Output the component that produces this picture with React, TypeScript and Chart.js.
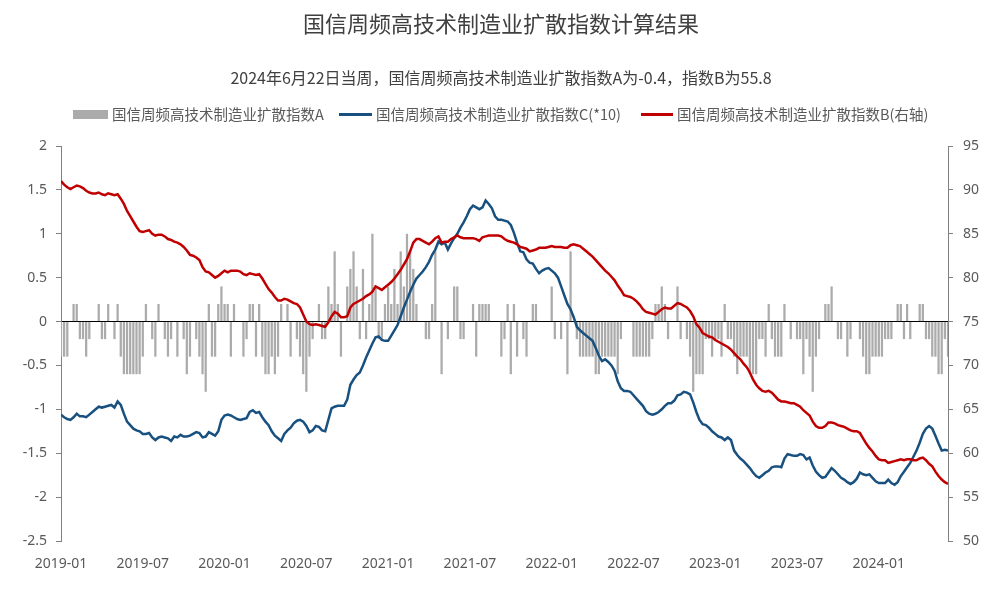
import React, { useEffect, useRef } from "react";
import { Chart, registerables } from "chart.js";

Chart.register(...registerables);

// 国信周频高技术制造业扩散指数A (weekly, left axis)
const indexA = [
  -0.4, -0.4, -0.4, 0, 0.2, 0.2, -0.2, -0.2, -0.4, -0.2,
  0, 0, 0.2, -0.2, -0.2, 0.2, 0, -0.2, 0.2, -0.4,
  -0.6, -0.6, -0.6, -0.6, -0.6, -0.6, -0.4, 0.2, 0, -0.2,
  -0.4, 0.2, 0, -0.2, -0.4, -0.2, 0, -0.4, 0, -0.2,
  -0.6, -0.4, 0, -0.2, -0.4, -0.6, -0.8, 0.2, -0.4, -0.4,
  0.2, 0.4, 0.2, 0.2, -0.4, 0.2, 0, 0, -0.4, -0.2,
  0.2, 0.2, -0.4, 0.2, -0.4, -0.6, -0.6, -0.4, -0.6, -0.4,
  0.2, 0, 0.2, -0.4, 0, -0.2, -0.4, -0.6, -0.8, -0.4,
  -0.2, 0, 0.2, -0.2, -0.2, 0.4, 0.2, 0.8, 0.2, -0.4,
  0, 0.4, 0.6, 0.8, 0.4, -0.2, 0.6, -0.2, 0.2, 1.0,
  0.4, -0.2, -0.2, 0.2, 0.4, 0.2, 0.6, 0.2, 0.8, 0.4,
  1.0, 0.8, 0.6, 0.2, 0, 0, -0.2, -0.2, 0.2, 0.8,
  0, -0.6, 0, -0.2, 0, 0.4, 0.4, -0.2, -0.2, 0,
  0, 0.2, -0.4, 0.2, 0.2, 0.2, 0.2, 0, 0, 0,
  -0.4, -0.2, 0.2, -0.6, 0.2, -0.4, 0, -0.2, -0.4, 0,
  0.2, 0.2, 0, 0, 0, 0, 0.4, -0.2, 0, -0.2,
  0, -0.6, 0.8, 0, -0.2, -0.4, -0.4, -0.4, -0.4, -0.4,
  -0.6, -0.6, -0.4, -0.4, -0.4, -0.4, -0.4, -0.6, -0.2, 0,
  0, 0, -0.4, -0.4, -0.4, -0.4, -0.4, -0.4, -0.2, 0.2,
  0.2, 0.4, 0.2, -0.2, 0, 0, 0.4, -0.2, 0, -0.2,
  -0.4, -0.8, -0.6, -0.6, -0.6, -0.2, -0.2, -0.4, -0.2, -0.2,
  -0.4, 0.2, -0.2, -0.2, -0.4, -0.6, -0.4, -0.4, -0.4, -0.6,
  -0.6, -0.6, -0.2, -0.2, -0.4, 0.2, -0.2, -0.4, -0.4, -0.4,
  0.2, 0, -0.2, 0, -0.2, -0.2, -0.6, -0.2, -0.4, -0.8,
  -0.4, -0.2, 0, 0.2, 0.2, 0.4, 0, -0.2, -0.2, 0,
  -0.4, -0.2, 0, 0, -0.2, -0.4, -0.6, -0.6, -0.4, -0.4,
  -0.4, -0.4, -0.2, -0.2, -0.2, 0, 0.2, 0.2, -0.2, 0.2,
  -0.2, 0, 0, 0.2, 0.2, -0.2, -0.2, -0.4, -0.4, -0.6,
  -0.6, -0.2, -0.4,
];

// 国信周频高技术制造业扩散指数B (weekly, right axis)
const indexB = [
  91.0, 90.6, 90.3, 90.1, 90.3, 90.5, 90.4, 90.2, 89.9, 89.7,
  89.6, 89.6, 89.7, 89.5, 89.4, 89.6, 89.5, 89.4, 89.5, 89.0,
  88.4, 87.6, 87.0, 86.4, 85.8, 85.3, 85.2, 85.3, 85.4, 85.0,
  84.8, 84.9, 84.9, 84.7, 84.4, 84.3, 84.1, 84.0, 83.8, 83.5,
  83.1, 82.6, 82.5, 82.3, 82.0, 81.2, 80.7, 80.6, 80.3, 80.0,
  80.2, 80.5, 80.8, 80.6, 80.8, 80.8, 80.8, 80.7, 80.4, 80.3,
  80.5, 80.4, 80.3, 80.4, 79.9, 79.3, 78.7, 78.3, 77.8, 77.4,
  77.4, 77.6, 77.5, 77.3, 77.1, 77.0, 76.6, 75.8, 75.0, 74.7,
  74.6, 74.7, 74.6, 74.5, 74.4, 74.9, 75.6, 76.1, 75.9, 75.5,
  75.5, 75.6, 76.6, 77.0, 77.2, 77.4, 77.6, 77.9, 78.1, 78.4,
  79.0, 78.8, 78.6, 78.9, 79.2, 79.5, 79.9, 80.4, 80.9, 81.5,
  82.1, 83.0, 84.0, 84.4, 84.4, 84.2, 84.0, 83.8, 84.1, 84.5,
  84.7, 84.0, 84.1, 84.1, 84.4, 84.6, 84.8, 84.6, 84.5, 84.5,
  84.5, 84.5, 84.4, 84.2, 84.6, 84.7, 84.8, 84.8, 84.8, 84.8,
  84.7, 84.4, 84.2, 84.1, 84.0, 83.8, 83.5, 83.4, 83.3, 83.0,
  83.1, 83.2, 83.4, 83.4, 83.4, 83.5, 83.6, 83.5, 83.5, 83.5,
  83.4, 83.4, 83.7, 83.8, 83.7, 83.6, 83.3, 83.0, 82.7, 82.4,
  82.0, 81.6, 81.2, 80.8, 80.5, 80.1, 79.7, 79.1, 78.6, 78.0,
  77.9, 77.8, 77.6, 77.3, 76.9, 76.4, 76.1, 76.0, 75.9, 75.8,
  76.1, 76.4, 76.6, 76.5, 76.5, 76.8, 77.1, 77.0, 76.8, 76.6,
  76.2, 75.6, 74.7, 74.3, 73.7, 73.5, 73.3, 73.2, 72.9, 72.7,
  72.5, 72.3, 72.1, 71.8, 71.4, 71.0, 70.7, 70.2, 69.8, 69.2,
  68.4, 67.8, 67.4, 67.1, 67.0, 67.1, 66.9, 66.5, 66.1, 65.9,
  65.9, 65.8, 65.7, 65.7, 65.5, 65.3, 64.9, 64.6, 64.3, 63.6,
  63.1, 62.9, 62.9, 63.1, 63.5, 63.5, 63.4, 63.2, 63.1, 63.0,
  62.8, 62.6, 62.5, 62.5, 62.3, 61.7, 61.1, 60.6, 60.2, 59.7,
  59.3, 59.2, 59.2, 58.9, 59.0, 59.1, 59.2, 59.3, 59.2, 59.3,
  59.3, 59.2, 59.2, 59.4, 59.5, 59.2, 58.8, 58.5, 57.9, 57.4,
  57.0, 56.7, 56.5,
];

// 国信周频高技术制造业扩散指数C(*10) (weekly, left axis)
const indexC = [
  -1.06, -1.09, -1.11, -1.12, -1.09, -1.05, -1.08, -1.08, -1.09, -1.06,
  -1.03, -1.0, -0.97, -0.98, -0.97, -0.96, -0.95, -0.98, -0.91, -0.95,
  -1.05, -1.14, -1.18, -1.22, -1.24, -1.25, -1.28, -1.28, -1.27, -1.32,
  -1.35, -1.32, -1.31, -1.32, -1.33, -1.36, -1.31, -1.32, -1.29, -1.31,
  -1.31, -1.3, -1.28, -1.26, -1.27, -1.32, -1.31, -1.26, -1.28, -1.3,
  -1.25, -1.12, -1.07, -1.06, -1.07, -1.09, -1.11, -1.12, -1.11, -1.1,
  -1.03, -1.01, -1.04, -1.03, -1.09, -1.14, -1.18, -1.25, -1.3, -1.33,
  -1.36, -1.28, -1.24, -1.21, -1.16, -1.13, -1.12, -1.14, -1.19, -1.26,
  -1.24, -1.19, -1.2, -1.24, -1.25, -1.12, -0.99, -0.97, -0.96, -0.96,
  -0.96, -0.89, -0.72, -0.66, -0.61, -0.58, -0.5, -0.41, -0.33, -0.25,
  -0.18, -0.17, -0.21, -0.22, -0.22, -0.16, -0.1, -0.04, 0.06, 0.16,
  0.25, 0.34, 0.42, 0.49, 0.53, 0.57, 0.62, 0.68, 0.76, 0.82,
  0.91, 0.88, 0.9, 0.82, 0.89, 0.95, 1.0, 1.07, 1.13, 1.2,
  1.28, 1.32, 1.3, 1.28, 1.3, 1.38, 1.34, 1.29, 1.2, 1.16,
  1.16, 1.15, 1.14, 1.1, 1.01, 0.9, 0.8, 0.79, 0.71, 0.67,
  0.66, 0.6, 0.55, 0.58, 0.6, 0.61, 0.58, 0.55, 0.5, 0.4,
  0.3, 0.2, 0.14, 0.05, -0.06, -0.1, -0.13, -0.16, -0.19, -0.22,
  -0.3, -0.39, -0.45, -0.43, -0.46, -0.5, -0.56, -0.68, -0.76, -0.79,
  -0.79, -0.8, -0.84, -0.88, -0.92, -0.96, -1.02, -1.05, -1.06, -1.05,
  -1.03, -1.0, -0.96, -0.93, -0.93, -0.9, -0.84, -0.83, -0.8, -0.81,
  -0.83, -0.92, -1.03, -1.12, -1.17, -1.18, -1.21, -1.25, -1.28, -1.31,
  -1.32, -1.35, -1.32, -1.35, -1.47, -1.52, -1.56, -1.59, -1.63, -1.67,
  -1.72, -1.76, -1.78, -1.75, -1.72, -1.7, -1.66, -1.65, -1.65, -1.66,
  -1.56, -1.51, -1.52, -1.53, -1.53, -1.51, -1.52, -1.57, -1.55, -1.64,
  -1.71, -1.75, -1.78, -1.77, -1.72, -1.67, -1.7, -1.74, -1.78, -1.8,
  -1.83, -1.85, -1.83, -1.79, -1.72, -1.74, -1.75, -1.74, -1.78, -1.82,
  -1.84, -1.84, -1.84, -1.8, -1.84, -1.86, -1.83, -1.76, -1.71, -1.66,
  -1.61, -1.54, -1.47, -1.38, -1.28, -1.22, -1.19, -1.22, -1.3, -1.39,
  -1.47, -1.46, -1.47,
];

// x-axis tick labels (week positions of each half-year label)
const tickWeeks = [0, 26, 52, 78, 104, 130, 156, 182, 208, 234, 260];
const tickLabels = [
  "2019-01", "2019-07", "2020-01", "2020-07", "2021-01", "2021-07",
  "2022-01", "2022-07", "2023-01", "2023-07", "2024-01",
];

const seriesNames = [
  "国信周频高技术制造业扩散指数A",
  "国信周频高技术制造业扩散指数C(*10)",
  "国信周频高技术制造业扩散指数B(右轴)",
];
const titleText = "国信周频高技术制造业扩散指数计算结果";
const subtitleText =
  "2024年6月22日当周，国信周频高技术制造业扩散指数A为-0.4，指数B为55.8";

const CJK = '"Noto Sans CJK SC", "Noto Sans", sans-serif';
const TICK_FONT = { family: '"Noto Sans", "DejaVu Sans", sans-serif', size: 14 };
const TICK_COLOR = "#595959";
const AXIS_COLOR = "#808080";
const BAR_COLOR = "#ababab";
const BLUE = "#18507f";
const RED = "#c00000";

export default function App() {
  const canvasRef = useRef<HTMLCanvasElement | null>(null);

  useEffect(() => {
    const canvas = canvasRef.current;
    if (!canvas) return;
    const n = indexB.length;
    const chart = new Chart(canvas, {
      type: "bar",
      data: {
        datasets: [
          {
            type: "bar",
            label: seriesNames[0],
            data: indexA.map((y, x) => ({ x, y })),
            backgroundColor: BAR_COLOR,
            borderWidth: 0,
            yAxisID: "y",
            order: 3,
            barPercentage: 0.9,
            categoryPercentage: 0.8,
          } as any,
          {
            type: "line",
            label: seriesNames[1],
            data: indexC.map((y, x) => ({ x, y })),
            borderColor: BLUE,
            backgroundColor: BLUE,
            borderWidth: 2.5,
            pointRadius: 0,
            tension: 0,
            yAxisID: "y",
            order: 2,
          } as any,
          {
            type: "line",
            label: seriesNames[2],
            data: indexB.map((y, x) => ({ x, y })),
            borderColor: RED,
            backgroundColor: RED,
            borderWidth: 2.5,
            pointRadius: 0,
            tension: 0,
            yAxisID: "y1",
            order: 1,
          } as any,
        ],
      },
      options: {
        responsive: false,
        animation: false,
        devicePixelRatio: 1,
        layout: { padding: { top: 146, left: 0, right: 0, bottom: 0 } },
        plugins: {
          legend: { display: false },
          title: { display: false },
          tooltip: { enabled: false },
        },
        scales: {
          x: {
            type: "linear",
            min: 0,
            max: n - 1,
            offset: false,
            grid: { display: false, drawTicks: false, offset: false },
            border: { display: false },
            afterBuildTicks: (scale: any) => {
              scale.ticks = tickWeeks.map((v) => ({ value: v }));
            },
            afterFit: (scale: any) => {
              scale.height = 58;
            },
            ticks: {
              autoSkip: false,
              maxRotation: 0,
              minRotation: 0,
              padding: 15,
              color: TICK_COLOR,
              font: TICK_FONT,
              callback: (value: any) => {
                const k = tickWeeks.indexOf(Number(value));
                return k >= 0 ? tickLabels[k] : "";
              },
            },
          },
          y: {
            type: "linear",
            position: "left",
            min: -2.5,
            max: 2,
            afterFit: (scale: any) => {
              scale.width = 61;
            },
            ticks: {
              stepSize: 0.5,
              padding: 9,
              color: TICK_COLOR,
              font: TICK_FONT,
              callback: (value: any) => String(Math.round(Number(value) * 10) / 10),
            },
            grid: {
              color: (ctx: any) =>
                ctx.tick && ctx.tick.value === 0 ? "#000000" : "rgba(0,0,0,0)",
              tickColor: AXIS_COLOR,
              tickLength: 5,
              lineWidth: 1,
            },
            border: { color: AXIS_COLOR, width: 1 },
          },
          y1: {
            type: "linear",
            position: "right",
            min: 50,
            max: 95,
            afterFit: (scale: any) => {
              scale.width = 44;
            },
            ticks: {
              stepSize: 5,
              padding: 10,
              color: TICK_COLOR,
              font: TICK_FONT,
            },
            grid: {
              drawOnChartArea: false,
              tickColor: AXIS_COLOR,
              tickLength: 5,
            },
            border: { color: AXIS_COLOR, width: 1 },
          },
        },
      } as any,
    });
    return () => chart.destroy();
  }, []);

  const legendText: React.CSSProperties = {
    position: "absolute",
    top: 104,
    fontFamily: CJK,
    fontSize: 14.5,
    lineHeight: "20px",
    color: "#595959",
    whiteSpace: "nowrap",
  };

  return (
    <div
      style={{
        position: "fixed",
        left: 0,
        top: 0,
        width: 992,
        height: 599,
        background: "#ffffff",
        overflow: "hidden",
      }}
    >
      <canvas
        ref={canvasRef}
        width={992}
        height={599}
        style={{ position: "absolute", left: 0, top: 0, width: 992, height: 599 }}
      />
      <div
        style={{
          position: "absolute",
          left: 0,
          top: 8,
          width: 992,
          paddingLeft: 10,
          boxSizing: "border-box",
          textAlign: "center",
          fontFamily: CJK,
          fontSize: 22,
          lineHeight: "28px",
          color: "#404040",
          whiteSpace: "nowrap",
        }}
      >
        {titleText}
      </div>
      <div
        style={{
          position: "absolute",
          left: 0,
          top: 65,
          width: 992,
          paddingLeft: 10,
          boxSizing: "border-box",
          textAlign: "center",
          fontFamily: CJK,
          fontSize: 16,
          lineHeight: "24px",
          color: "#404040",
          whiteSpace: "nowrap",
        }}
      >
        {subtitleText}
      </div>
      <div
        style={{
          position: "absolute",
          left: 73,
          top: 110,
          width: 35,
          height: 9,
          background: BAR_COLOR,
        }}
      />
      <div style={{ ...legendText, left: 112 }}>{seriesNames[0]}</div>
      <div
        style={{
          position: "absolute",
          left: 339,
          top: 113,
          width: 33,
          height: 3,
          background: BLUE,
        }}
      />
      <div style={{ ...legendText, left: 376 }}>{seriesNames[1]}</div>
      <div
        style={{
          position: "absolute",
          left: 641,
          top: 113,
          width: 32,
          height: 3,
          background: RED,
        }}
      />
      <div style={{ ...legendText, left: 677 }}>{seriesNames[2]}</div>
    </div>
  );
}
